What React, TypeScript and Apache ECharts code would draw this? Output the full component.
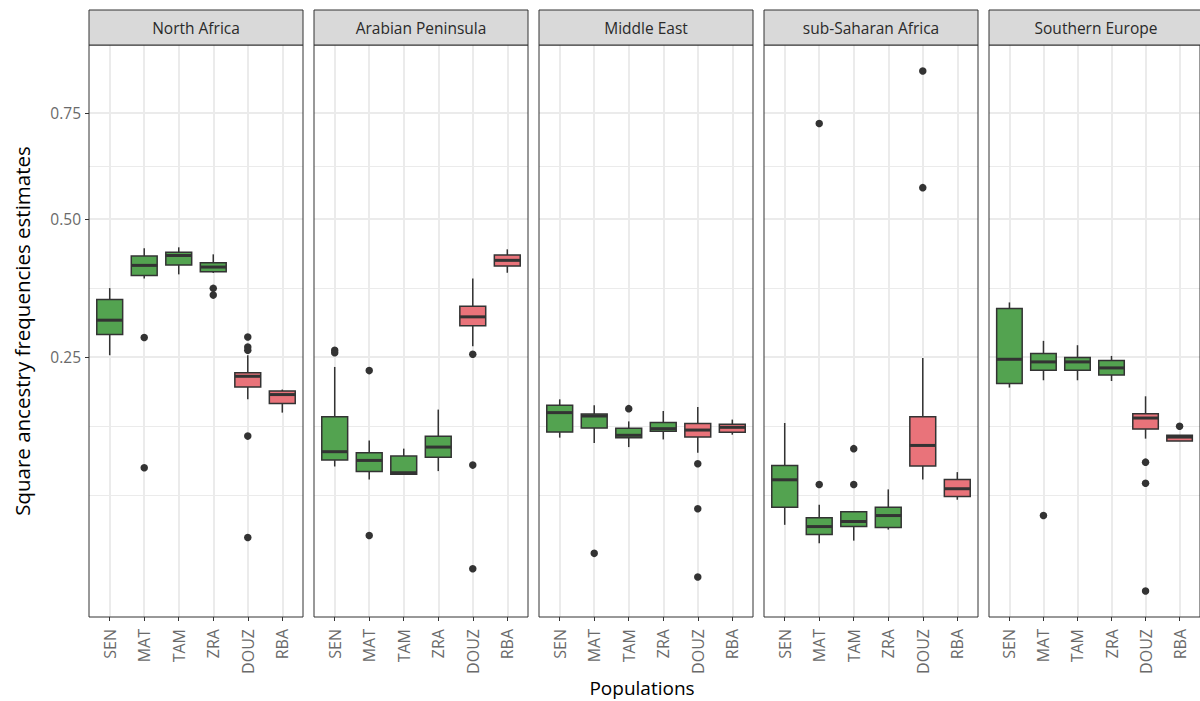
import React, { useEffect, useRef } from 'react';
import * as echarts from 'echarts';

const categories = ['SEN', 'MAT', 'TAM', 'ZRA', 'DOUZ', 'RBA'];
const regions = ['North Africa', 'Arabian Peninsula', 'Middle East', 'sub-Saharan Africa', 'Southern Europe'];
const yTicks = [0.25, 0.5, 0.75];
const redGroups = ['DOUZ', 'RBA'];

// [lower whisker, Q1, median, Q3, upper whisker] per population
const northAfrica = [
  [0.2526, 0.2848, 0.3082, 0.3437, 0.364],
  [0.3818, 0.3874, 0.4063, 0.4243, 0.4396],
  [0.3893, 0.4069, 0.4254, 0.4316, 0.4416],
  [0.392, 0.3941, 0.4031, 0.4114, 0.4277],
  [0.1904, 0.2069, 0.2218, 0.227, 0.2526],
  [0.1734, 0.1849, 0.1967, 0.2015, 0.2034],
];
const northAfricaOut = [[1, 0.28], [1, 0.1114], [3, 0.3635], [3, 0.3514], [4, 0.2809], [4, 0.2652], [4, 0.2601], [4, 0.1453], [4, 0.0524]];

const arabian = [
  [0.1126, 0.1191, 0.128, 0.1684, 0.2352],
  [0.0999, 0.1077, 0.1188, 0.1269, 0.1404],
  [0.105, 0.105, 0.1064, 0.1233, 0.1313],
  [0.108, 0.1222, 0.133, 0.145, 0.1772],
  [0.2664, 0.2988, 0.3138, 0.332, 0.3818],
  [0.3923, 0.405, 0.416, 0.4263, 0.4376],
];
const arabianOut = [[0, 0.2602], [0, 0.2563], [1, 0.2299], [1, 0.0538], [4, 0.2541], [4, 0.114], [4, 0.0331]];

const middleEast = [
  [0.1435, 0.1499, 0.1734, 0.1827, 0.1904],
  [0.1374, 0.1546, 0.1692, 0.1716, 0.1827],
  [0.133, 0.1435, 0.1462, 0.1543, 0.1626],
  [0.1415, 0.1508, 0.1539, 0.1614, 0.1754],
  [0.1269, 0.1442, 0.1523, 0.1602, 0.1805],
  [0.1469, 0.1496, 0.1555, 0.1591, 0.1648],
];
const middleEastOut = [[1, 0.0421], [2, 0.1784], [4, 0.1154], [4, 0.074], [4, 0.0288]];

const subSaharan = [
  [0.0615, 0.0753, 0.0996, 0.1136, 0.1607],
  [0.0485, 0.0545, 0.0602, 0.0668, 0.0773],
  [0.0503, 0.0602, 0.064, 0.0716, 0.0716],
  [0.058, 0.0595, 0.0686, 0.0753, 0.0907],
  [0.0999, 0.113, 0.1348, 0.1684, 0.2485],
  [0.0816, 0.0844, 0.0913, 0.0999, 0.107],
];
const subSaharanOut = [[1, 0.0952], [1, 0.7232], [2, 0.1313], [2, 0.0952], [4, 0.8634], [4, 0.5687]];

const southernEurope = [
  [0.2061, 0.2116, 0.2465, 0.3281, 0.3385],
  [0.2162, 0.2304, 0.2426, 0.2551, 0.2747],
  [0.2162, 0.2304, 0.2426, 0.2491, 0.2679],
  [0.2152, 0.2237, 0.2338, 0.2446, 0.2515],
  [0.1424, 0.1534, 0.1667, 0.1721, 0.1944],
  [0.1397, 0.1397, 0.1442, 0.1462, 0.1462],
];
const southernEuropeOut = [[1, 0.0686], [4, 0.117], [4, 0.0964], [4, 0.0221], [5, 0.1567]];

const boxStats = [northAfrica, arabian, middleEast, subSaharan, southernEurope];
const outliers = [northAfricaOut, arabianOut, middleEastOut, subSaharanOut, southernEuropeOut];

const GREEN = '#53A350';
const RED = '#E9737A';
const DARK = '#333333';
const TICK_TEXT = '#6A6A6A';
const FONT = '"Open Sans", "DejaVu Sans", sans-serif';

const PANEL_LEFT = 89;
const PANEL_STEP = 225;
const PANEL_W = 214;
const PANEL_TOP = 45;
const PANEL_H = 572;
const STRIP_TOP = 10;

function buildOption() {
  const sq = Math.sqrt;
  // y-limits in sqrt space, 5% expansion (ggplot default)
  const all: number[] = [];
  boxStats.forEach((p) => p.forEach((r) => r.forEach((v) => all.push(sq(v)))));
  outliers.forEach((p) => p.forEach((o) => all.push(sq(o[1]))));
  const lo = Math.min(...all);
  const hi = Math.max(...all);
  const pad = (hi - lo) * 0.05;
  const yMin = lo - pad;
  const yMax = hi + pad;
  const xMin = 0.4;
  const xMax = categories.length + 0.6;

  const major = yTicks.map(sq);
  // regular minor breaks as ggplot computes them
  const b = major.slice();
  const bd = b[1] - b[0];
  if (yMin < b[0]) b.unshift(b[0] - bd);
  if (yMax > b[b.length - 1]) b.push(b[b.length - 1] + bd);
  const minorAll: number[] = [];
  for (let i = 0; i < b.length - 1; i++) {
    minorAll.push(b[i], (b[i] + b[i + 1]) / 2);
  }
  minorAll.push(b[b.length - 1]);
  const minor = minorAll.filter((m) => m > yMin && m < yMax && !major.some((mj) => Math.abs(mj - m) < 1e-9));

  const catPos = categories.map((_, i) => i + 1);

  const grids: any[] = [];
  const xAxes: any[] = [];
  const yAxes: any[] = [];
  const series: any[] = [];
  const graphics: any[] = [];

  regions.forEach((region, p) => {
    const left = PANEL_LEFT + p * PANEL_STEP;
    grids.push({
      left, top: PANEL_TOP, width: PANEL_W, height: PANEL_H,
      show: true, borderColor: DARK, borderWidth: 1, backgroundColor: 'transparent', z: 3,
      containLabel: false,
    });
    xAxes.push({
      type: 'value', gridIndex: p, min: xMin, max: xMax,
      axisLine: { show: false }, splitLine: { show: false },
      axisTick: { show: true, customValues: catPos, length: 4, lineStyle: { color: DARK, width: 1 } },
      axisLabel: {
        show: true, customValues: catPos, rotate: 90, margin: 12,
        formatter: (v: number) => categories[Math.round(v) - 1] || '',
        color: TICK_TEXT, fontSize: 16, fontFamily: FONT,
      },
    });
    yAxes.push({
      type: 'value', gridIndex: p, min: yMin, max: yMax,
      axisLine: { show: false }, splitLine: { show: false },
      axisTick: { show: p === 0, customValues: major, length: 4, lineStyle: { color: DARK, width: 1 } },
      axisLabel: {
        show: p === 0, customValues: major, margin: 8,
        formatter: (v: number) => (v * v).toFixed(2),
        color: TICK_TEXT, fontSize: 15.5, fontFamily: FONT,
      },
    });

    // grid lines
    series.push({
      type: 'lines', coordinateSystem: 'cartesian2d', xAxisIndex: p, yAxisIndex: p,
      silent: true, z: 0, animation: false,
      lineStyle: { color: '#EBEBEB', width: 1, opacity: 1 },
      data: minor.map((m) => ({ coords: [[xMin, m], [xMax, m]] })),
    });
    series.push({
      type: 'lines', coordinateSystem: 'cartesian2d', xAxisIndex: p, yAxisIndex: p,
      silent: true, z: 0, animation: false,
      lineStyle: { color: '#EBEBEB', width: 2, opacity: 1 },
      data: [
        ...major.map((m) => ({ coords: [[xMin, m], [xMax, m]] })),
        ...catPos.map((c) => ({ coords: [[c, yMin], [c, yMax]] })),
      ],
    });

    // boxes
    series.push({
      type: 'custom', xAxisIndex: p, yAxisIndex: p, z: 2, silent: true,
      encode: { x: 0, y: [1, 2, 3, 4, 5] },
      data: boxStats[p].map((r, i) => ({
        value: [i + 1, ...r.map(sq)],
        itemStyle: { color: redGroups.includes(categories[i]) ? RED : GREEN },
      })),
      renderItem: (params: any, api: any) => {
        const x = api.value(0);
        const pLo = api.coord([x, api.value(1)]);
        const pQ1 = api.coord([x, api.value(2)]);
        const pMed = api.coord([x, api.value(3)]);
        const pQ3 = api.coord([x, api.value(4)]);
        const pHi = api.coord([x, api.value(5)]);
        const w = api.size([0.75, 0])[0];
        const fill = api.visual('color');
        const cx = pQ1[0];
        return {
          type: 'group',
          children: [
            { type: 'line', shape: { x1: cx, y1: pHi[1], x2: cx, y2: pQ3[1] }, style: { stroke: DARK, lineWidth: 1.5 } },
            { type: 'line', shape: { x1: cx, y1: pQ1[1], x2: cx, y2: pLo[1] }, style: { stroke: DARK, lineWidth: 1.5 } },
            { type: 'rect', shape: { x: cx - w / 2, y: pQ3[1], width: w, height: pQ1[1] - pQ3[1] }, style: { fill, stroke: DARK, lineWidth: 1.5 } },
            { type: 'line', shape: { x1: cx - w / 2, y1: pMed[1], x2: cx + w / 2, y2: pMed[1] }, style: { stroke: DARK, lineWidth: 3 } },
          ],
        };
      },
    });

    // outliers
    series.push({
      type: 'scatter', xAxisIndex: p, yAxisIndex: p, z: 3, silent: true,
      symbol: 'circle', symbolSize: 7.5,
      itemStyle: { color: DARK, opacity: 1 },
      data: outliers[p].map((o) => [o[0] + 1, sq(o[1])]),
    });

    // strip
    graphics.push({
      type: 'rect', silent: true, z: 10,
      shape: { x: left, y: STRIP_TOP, width: PANEL_W, height: PANEL_TOP - STRIP_TOP },
      style: { fill: '#D9D9D9', stroke: DARK, lineWidth: 1 },
    });
    graphics.push({
      type: 'text', silent: true, z: 11,
      x: left + PANEL_W / 2, y: (STRIP_TOP + PANEL_TOP) / 2,
      style: { text: region, textAlign: 'center', textVerticalAlign: 'middle', fontSize: 15.5, fontFamily: FONT, fill: '#2A2A2A' },
    });
  });

  graphics.push({
    type: 'text', silent: true,
    x: 642, y: 688,
    style: { text: 'Populations', textAlign: 'center', textVerticalAlign: 'middle', fontSize: 19, fontFamily: FONT, fill: '#000000' },
  });
  graphics.push({
    type: 'text', silent: true,
    x: 22, y: PANEL_TOP + PANEL_H / 2, rotation: Math.PI / 2,
    style: { text: 'Square ancestry frequencies estimates', textAlign: 'center', textVerticalAlign: 'middle', fontSize: 20.5, fontFamily: FONT, fill: '#000000' },
  });

  return {
    animation: false,
    backgroundColor: '#FFFFFF',
    textStyle: { fontFamily: FONT },
    grid: grids,
    xAxis: xAxes,
    yAxis: yAxes,
    series,
    graphic: graphics,
  };
}

export default function App() {
  const ref = useRef<HTMLDivElement>(null);
  useEffect(() => {
    if (!ref.current) return;
    const chart = echarts.init(ref.current, null, { renderer: 'svg' });
    chart.setOption(buildOption() as any);
    return () => chart.dispose();
  }, []);
  return <div ref={ref} style={{ position: 'fixed', left: 0, top: 0, width: 1200, height: 701 }} />;
}
